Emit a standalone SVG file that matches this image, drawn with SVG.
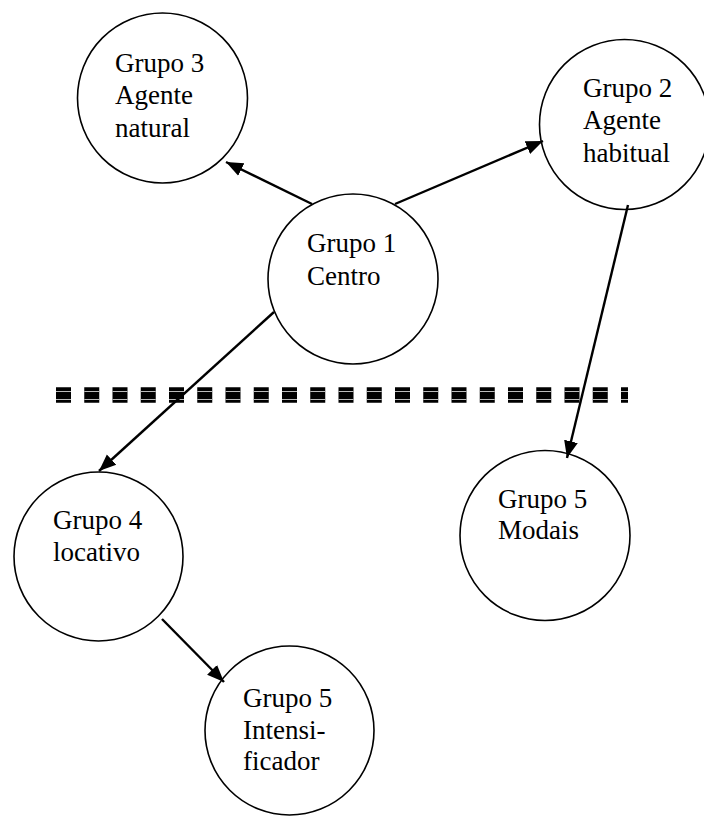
<svg xmlns="http://www.w3.org/2000/svg" width="704" height="816" viewBox="0 0 704 816">
<style>
.node circle{fill:#fff;stroke:#000;stroke-width:1.6}
.node text{font-family:'Liberation Serif','Times New Roman',serif;font-size:27px;fill:#000}
.conn line{stroke:#000;stroke-width:2.4;fill:none}
</style>
<defs>
<marker id="arr" markerUnits="userSpaceOnUse" markerWidth="20" markerHeight="18" viewBox="0 0 20 18" refX="17" refY="9" orient="auto">
<path d="M0,2 L17,9 L0,16 Z" fill="#000"/>
</marker>
</defs>
<rect width="704" height="816" fill="#fff"/>
<g id="divider">
<line x1="56" y1="395" x2="628" y2="395" stroke="#000" stroke-width="15.5" stroke-dasharray="15 13.25"/>
<line x1="56" y1="391.5" x2="628" y2="391.5" stroke="#bbb" stroke-width="1.2" stroke-dasharray="15 13.25"/>
<line x1="56" y1="399.5" x2="628" y2="399.5" stroke="#bbb" stroke-width="1.2" stroke-dasharray="15 13.25"/>
</g>
<g id="g3" class="node">
<circle cx="162.5" cy="98" r="85"/>
<text x="115" y="72" font-family="Liberation Serif, serif">Grupo 3</text>
<text x="115" y="104" font-family="Liberation Serif, serif">Agente</text>
<text x="115" y="137" font-family="Liberation Serif, serif">natural</text>
</g>
<g id="g2" class="node">
<circle cx="624.5" cy="124.5" r="85"/>
<text x="583" y="97" font-family="Liberation Serif, serif">Grupo 2</text>
<text x="583" y="129" font-family="Liberation Serif, serif">Agente</text>
<text x="583" y="162" font-family="Liberation Serif, serif">habitual</text>
</g>
<g id="g1" class="node">
<circle cx="353" cy="279" r="85"/>
<text x="307" y="252" font-family="Liberation Serif, serif">Grupo 1</text>
<text x="307" y="285" font-family="Liberation Serif, serif">Centro</text>
</g>
<g id="g4" class="node">
<circle cx="98.5" cy="556.5" r="84.5"/>
<text x="53" y="529" font-family="Liberation Serif, serif">Grupo 4</text>
<text x="53" y="561" font-family="Liberation Serif, serif">locativo</text>
</g>
<g id="g5m" class="node">
<circle cx="545" cy="535.5" r="85"/>
<text x="498" y="508" font-family="Liberation Serif, serif">Grupo 5</text>
<text x="498" y="539" font-family="Liberation Serif, serif">Modais</text>
</g>
<g id="g5i" class="node">
<circle cx="289.5" cy="730.5" r="84.5"/>
<text x="243" y="707" font-family="Liberation Serif, serif">Grupo 5</text>
<text x="243" y="739" font-family="Liberation Serif, serif">Intensi-</text>
<text x="243" y="770" font-family="Liberation Serif, serif">ficador</text>
</g>
<g id="connectors" class="conn">
<line x1="312" y1="204" x2="226" y2="162" marker-end="url(#arr)"/>
<line x1="395" y1="204" x2="543" y2="141" marker-end="url(#arr)"/>
<line x1="274" y1="312" x2="99" y2="471" marker-end="url(#arr)"/>
<line x1="628" y1="205" x2="567" y2="458" marker-end="url(#arr)"/>
<line x1="162" y1="619" x2="224" y2="682" marker-end="url(#arr)"/>
</g>
</svg>
